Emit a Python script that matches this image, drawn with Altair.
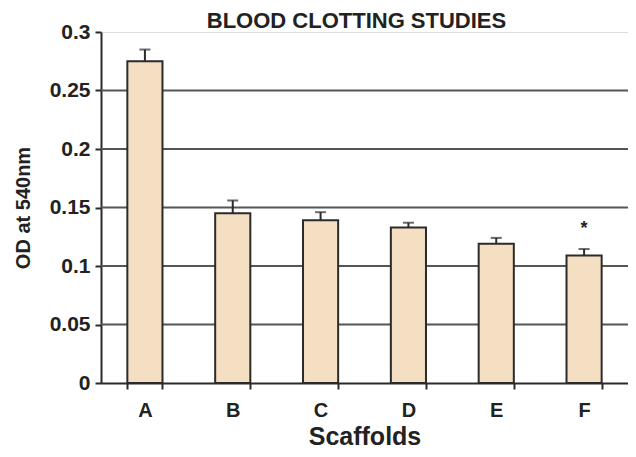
import altair as alt
import pandas as pd

scaffolds = ["A", "B", "C", "D", "E", "F"]
od_values = [0.275, 0.145, 0.139, 0.133, 0.119, 0.109]
od_errors = [0.010, 0.011, 0.007, 0.004, 0.005, 0.0055]
significance = ["", "", "", "", "", "*"]
grid_values = [0.05, 0.1, 0.15, 0.2, 0.25]
y_ticks = [0, 0.05, 0.1, 0.15, 0.2, 0.25, 0.3]

df = pd.DataFrame({
    "scaffold": scaffolds,
    "od": od_values,
    "upper": [v + e for v, e in zip(od_values, od_errors)],
    "sig": significance,
})
grid_df = pd.DataFrame({"g": grid_values})

FONT = "Liberation Sans"
DARK = "#2b2b2b"

x_enc = alt.X(
    "scaffold:N", sort=scaffolds,
    scale=alt.Scale(paddingInner=0.6, paddingOuter=0.3),
    axis=alt.Axis(
        title="Scaffolds", labelAngle=0, tickBand="extent",
        labelFont=FONT, labelFontSize=20, labelFontWeight="bold", labelColor="#222",
        labelPadding=11, titleFont=FONT, titleFontSize=25, titleFontWeight="bold",
        titleColor="#222", titlePadding=4, domainColor=DARK, domainWidth=2,
        tickColor=DARK, tickWidth=2, tickSize=6,
    ),
)
y_scale = alt.Scale(domain=[0, 0.3], nice=False)

grid = alt.Chart(grid_df).mark_rule(color="#555", strokeWidth=2).encode(
    y=alt.Y("g:Q", scale=y_scale)
)

bars = alt.Chart(df).mark_bar(
    fill="#F5DFC3", stroke=DARK, strokeWidth=2
).encode(
    x=x_enc,
    y=alt.Y(
        "od:Q", scale=y_scale,
        axis=alt.Axis(
            title="OD at 540nm", values=y_ticks, format="~g", grid=False,
            labelFont=FONT, labelFontSize=21, labelFontWeight="bold", labelColor="#222",
            labelPadding=5, titleFont=FONT, titleFontSize=20, titleFontWeight="bold",
            titleColor="#222", titlePadding=16, domainColor=DARK, domainWidth=2,
            tickColor=DARK, tickWidth=2, tickSize=6,
        ),
    ),
)

stems = alt.Chart(df).mark_rule(color=DARK, strokeWidth=2).encode(
    x=alt.X("scaffold:N", sort=scaffolds),
    y=alt.Y("od:Q", scale=y_scale),
    y2="upper:Q",
)

caps = alt.Chart(df).mark_tick(color=DARK, thickness=2, size=11).encode(
    x=alt.X("scaffold:N", sort=scaffolds),
    y=alt.Y("upper:Q", scale=y_scale),
)

stars = alt.Chart(df).mark_text(
    font=FONT, fontSize=18, fontWeight="bold", color="#222", baseline="middle", dy=-20
).encode(
    x=alt.X("scaffold:N", sort=scaffolds),
    y=alt.Y("upper:Q", scale=y_scale),
    text="sig:N",
)

chart = alt.layer(grid, bars, stems, caps, stars).properties(
    width=527,
    height=351,
    title=alt.TitleParams(
        "BLOOD CLOTTING STUDIES", font=FONT, fontSize=22, fontWeight="bold",
        color="#222", anchor="middle", frame="group", offset=-12, dx=-8,
    ),
    autosize=alt.AutoSizeParams(type="none"),
    padding={"left": 93, "top": 24, "right": 0, "bottom": 66},
).configure_view(stroke=None).configure(background="white")

chart.save("out.html", embed_options={"renderer": "svg", "actions": False})
